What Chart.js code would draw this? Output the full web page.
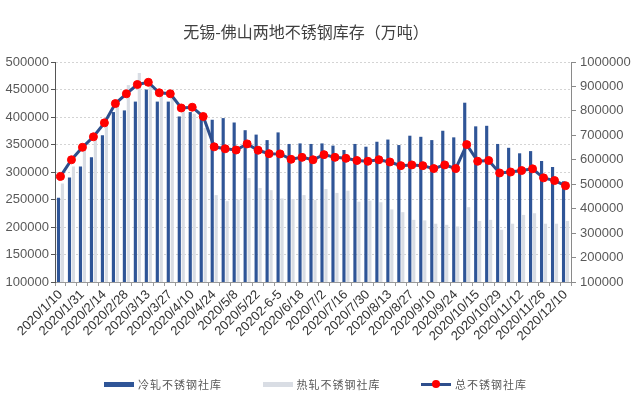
<!DOCTYPE html>
<html>
<head>
<meta charset="utf-8">
<script src="https://cdn.jsdelivr.net/npm/chart.js@4.4.0/dist/chart.umd.min.js"></script>
<style>
  body { margin: 0; background: #fff; }
  #wrap { position: relative; width: 640px; height: 414px; overflow: hidden; }
  #ttl { position: absolute; left: 0; width: 612px; top: 19px; text-align: center;
         font: 16px "Noto Sans CJK SC"; color: #404040; white-space: nowrap; }
  #lgd { position: absolute; left: 104px; top: 376px; display: flex; }
  .it { width: 158.5px; display: flex; align-items: center; height: 16px;
        font: 11px "Noto Sans CJK SC"; color: #595959; letter-spacing: 1px; }
  .sw { width: 30px; height: 5px; margin-right: 4px; flex: none; position: relative; }
  .dot { position: absolute; left: 11px; top: -3px; width: 8px; height: 8px; border-radius: 50%; background: #ff0000; }
</style>
</head>
<body>
<div id="wrap">
  <canvas id="cv" width="640" height="414"></canvas>
  <div id="ttl">无锡-佛山两地不锈钢库存（万吨）</div>
  <div id="lgd"></div>
</div>
<script>
let dates = ['2020/1/10','2020/1/17','2020/1/31','2020/2/7','2020/2/14','2020/2/21','2020/2/28','2020/3/6',
  '2020/3/13','2020/3/20','2020/3/27','2020/4/3','2020/4/10','2020/4/17','2020/4/24','2020/4/30',
  '2020/5/8','2020/5/15','2020/5/22','2020/5/29','20202-6-5','2020/6/11','2020/6/18','2020/6/24',
  '2020/7/2','2020/7/9','2020/7/16','2020/7/23','2020/7/30','2020/8/6','2020/8/13','2020/8/20',
  '2020/8/27','2020/9/3','2020/9/10','2020/9/17','2020/9/24','2020/9/30','2020/10/15','2020/10/22',
  '2020/10/29','2020/11/5','2020/11/12','2020/11/19','2020/11/26','2020/12/3','2020/12/10'];

// 冷轧 / 热轧 bars on the left axis, total on the right axis
let coldStock = [253000,290000,310000,327000,367000,409000,412000,428000,450000,428000,
  428000,401000,409000,397000,395000,398000,390000,376000,368000,358000,
  372000,351000,352000,351000,352000,348000,340000,351000,346000,355000,
  359000,349000,366000,364000,358000,375000,363000,426000,383000,384000,
  351000,344000,334000,338000,320000,309000,283000];
let hotStock = [279000,310000,341000,367000,384000,421000,458000,480000,467000,446000,
  442000,411000,406000,380000,258000,247000,250000,289000,271000,267000,
  252000,251000,258000,249000,269000,262000,266000,246000,248000,245000,
  232000,227000,213000,212000,206000,204000,201000,236000,211000,213000,
  195000,206000,222000,225000,206000,206000,211000];
let totalStock = [532000,600000,651000,694000,751000,830000,870000,908000,917000,874000,
  870000,812000,815000,777000,653000,645000,640000,665000,639000,625000,
  624000,602000,610000,600000,621000,610000,606000,597000,594000,600000,
  591000,576000,579000,576000,564000,579000,564000,662000,594000,597000,
  546000,550000,556000,563000,526000,515000,494000];

let blue = '#2f5597';
let grey = '#d9dde4';

Chart.defaults.font.family = '"Liberation Sans", Arial, sans-serif';

let ch = new Chart(document.getElementById('cv'), {
  data: {
    labels: dates,
    datasets: [
      { type: 'line', label: '总不锈钢社库', data: totalStock, yAxisID: 'y2', order: 0,
        borderColor: '#2e4e8c', borderWidth: 3, tension: 0,
        pointRadius: 4, pointHoverRadius: 4, pointBorderWidth: 1,
        pointBackgroundColor: '#ff0000', pointBorderColor: '#ff0000' },
      { type: 'bar', label: '冷轧不锈钢社库', data: coldStock, yAxisID: 'y', order: 1,
        backgroundColor: blue, categoryPercentage: 0.72, barPercentage: 0.8 },
      { type: 'bar', label: '热轧不锈钢社库', data: hotStock, yAxisID: 'y', order: 2,
        backgroundColor: grey, categoryPercentage: 0.72, barPercentage: 0.8 }
    ]
  },
  options: {
    responsive: false,
    animation: false,
    layout: { padding: { top: 62, bottom: 62, left: 0, right: 0 } },
    plugins: { legend: { display: false }, tooltip: { enabled: false } },
    scales: {
      x: {
        offset: true,
        grid: { drawOnChartArea: false, tickLength: 4, tickColor: '#9a9a9a' },
        border: { color: '#9a9a9a' },
        ticks: {
          autoSkip: false, maxRotation: 45, minRotation: 45, padding: 1,
          color: '#333', font: { size: 13 },
          callback: function (v, i) { return i % 2 ? '' : this.getLabelForValue(v); }
        },
        afterFit: s => { s.height = 70; }
      },
      y: {
        position: 'left', min: 100000, max: 500000,
        ticks: { stepSize: 50000, color: '#595959', font: { size: 13 }, padding: 2, callback: v => v },
        grid: { color: '#d4d4d4', tickLength: 4, tickColor: '#555', tickBorderDash: [] },
        border: { color: '#555', dash: [2, 2] },
        afterFit: s => { s.width = 55; }
      },
      y2: {
        position: 'right', min: 100000, max: 1000000,
        ticks: { stepSize: 100000, color: '#595959', font: { size: 13 }, padding: 4, callback: v => v },
        grid: { drawOnChartArea: false, tickLength: 5, tickColor: '#8a8a8a' },
        border: { color: '#8a8a8a' },
        afterFit: s => { s.width = 69; }
      }
    }
  }
});

// legend drawn as html under the axis labels
let lg = document.getElementById('lgd');
[1, 2, 0].forEach(k => {
  let ds = ch.data.datasets[k];
  let it = document.createElement('div');
  it.className = 'it';
  let sw = document.createElement('span');
  sw.className = 'sw';
  if (ds.type === 'line') {
    sw.style.height = '3px';
    sw.style.background = ds.borderColor;
    let d = document.createElement('span');
    d.className = 'dot';
    sw.appendChild(d);
  } else {
    sw.style.background = ds.backgroundColor;
  }
  it.appendChild(sw);
  it.appendChild(document.createTextNode(ds.label));
  lg.appendChild(it);
});
</script>
</body>
</html>
